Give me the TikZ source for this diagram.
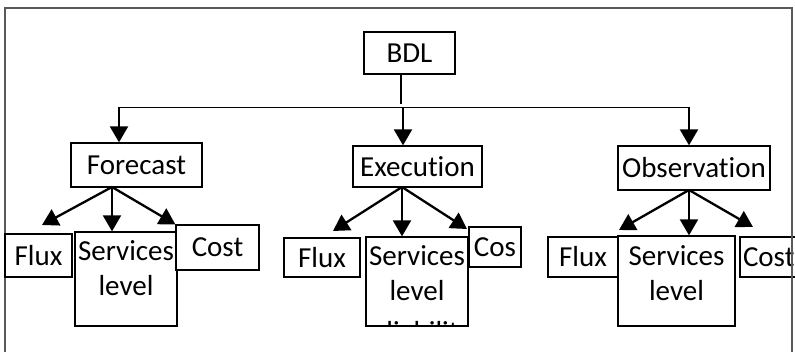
\documentclass[tikz,border=0pt]{standalone}
\usepackage{fontspec}
\setmainfont{Carlito}[Ligatures={NoCommon}]
\usetikzlibrary{arrows.meta}
\begin{document}
\begin{tikzpicture}[x=1pt,y=-1pt,
  box/.style={draw=black, line width=1.3pt, fill=white, inner sep=0pt,
              font=\fontsize{29}{35}\selectfont},
  svtext/.style={anchor=north, align=center, inner sep=0pt,
              font=\fontsize{29}{35}\selectfont},
  frame/.style={draw=black!65, line width=1.6pt},
  link/.style={line width=1.8pt},
  arr/.style={line width=2.3pt, -{Triangle[length=16pt,width=18pt]}}]
\useasboundingbox (0,0) rectangle (795,352);
\clip (0,0) rectangle (795,352);

% outer frame (its bottom edge runs off the page)
\draw[frame] (5,370) -- (5,8) -- (792,8) -- (792,370);

% root
\node[box, minimum width=91pt, minimum height=42pt] (bdl) at (409.5,53) {BDL};

% second level
\node[box, minimum width=131pt, minimum height=44pt] (fc) at (136.5,165) {Forecast};
\node[box, minimum width=129pt, minimum height=41pt] (ex) at (417.5,166.5) {Execution};
\node[box, minimum width=152pt, minimum height=44pt] (ob) at (694,168) {Observation};

% distribution bar under the root
\coordinate (barL) at (119,107.5);
\coordinate (barM) at (403,107.5);
\coordinate (barR) at (689,107.5);
\draw[link] (barL) -- (barR);
\draw[link] (bdl.south -| 401,0) -- (401,104);
\draw[arr] (barL) -- (barL |- fc.north);
\draw[arr] (barM) -- (barM |- ex.north);
\draw[arr] (barR) -- (barR |- ob.north);

% Forecast branch
\node[box, minimum width=67pt, minimum height=43pt] (ffl) at (38.5,255.5) {Flux};
\node[box, minimum width=102pt, minimum height=94pt] (fsv) at (126,279) {};
\node[svtext] (fsvt) at ([yshift=-9pt]fsv.north) {Services\\level};
\node[box, minimum width=83pt, minimum height=45pt] (fco) at (217.5,247.5) {Cost};

% Execution branch: the box is too short for its last line, which is cut off
\node[box, minimum width=102pt, minimum height=89pt] (esv) at (417,281.5) {};
\begin{scope}
  \clip (esv.north west) rectangle (esv.south east);
  \node[svtext] (esvt) at ([yshift=-9pt]esv.north) {Services\\level\\[6pt]reliability};
\end{scope}
\node[box, minimum width=76pt, minimum height=39pt] (efl) at (322,257.5) {Flux};
\node[box, minimum width=52pt, minimum height=40pt] (eco) at (495,247) {Cos};

% Observation branch
\node[box, minimum width=70pt, minimum height=40pt] (ofl) at (583,257) {Flux};
\node[box, minimum width=117pt, minimum height=90pt] (osv) at (676.5,281) {};
\node[svtext] (osvt) at ([yshift=-10pt]osv.north) {Services\\level};
\node[box, minimum width=60pt, minimum height=40pt, text width=54pt, align=left] (oco) at (770,257) {Cost};
\draw[frame] (792,200) -- (792,370);

% branch arrows
\coordinate (fo) at (112,187);
\coordinate (fl) at (42,225);
\draw[arr] (fo) -- (fl);
\draw[arr] (fo) -- (fo |- fsv.north);
\draw[arr] (fo) -- (fco.north west);

\coordinate (eo) at (402,187);
\coordinate (el) at (333,231);
\coordinate (er) at (467,229);
\draw[arr] (eo) -- (el);
\draw[arr] (eo) -- (eo |- esv.north);
\draw[arr] (eo) -- (er);

\coordinate (oo) at (689,190);
\coordinate (ol) at (619,230);
\coordinate (or) at (753,227);
\draw[arr] (oo) -- (ol);
\draw[arr] (oo) -- (oo |- osv.north);
\draw[arr] (oo) -- (or);
\end{tikzpicture}
\end{document}
